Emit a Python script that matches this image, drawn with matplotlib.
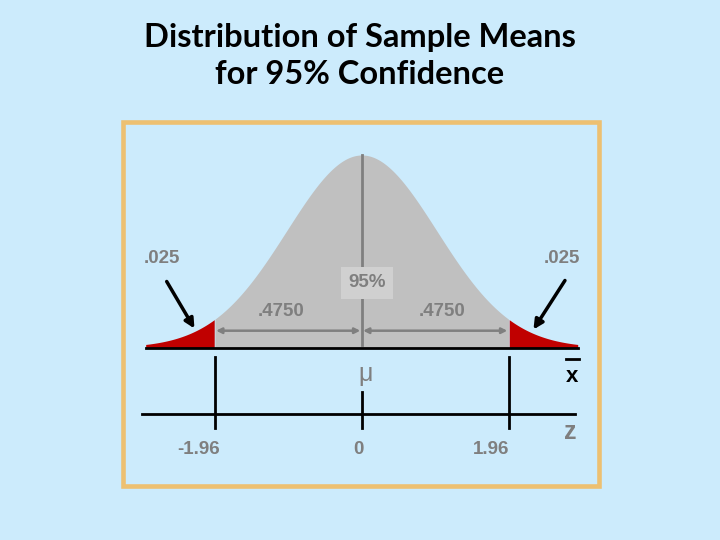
import numpy as np
import matplotlib.pyplot as plt
from matplotlib.patches import Rectangle

# values shown on the chart
z_crit = 1.96
tail_area = ".025"
half_area = ".4750"
center_label = "95%"
z_ticks = [-1.96, 0, 1.96]
z_tick_labels = ["-1.96", "0", "1.96"]
z_range = 2.88

bg = "#CCEBFC"
gray_fill = "#C0C0C0"
gray_text = "#7F7F7F"
red = "#C00000"
lab_font = dict(fontsize=13.5, fontweight="bold", color=gray_text, family="Liberation Sans")

fig = plt.figure(figsize=(7.2, 5.4), dpi=100, facecolor=bg)

# frame around the diagram
fig.patches.append(Rectangle((123 / 720, 1 - 485.5 / 540), 475.5 / 720, 363 / 540,
                             transform=fig.transFigure, fill=False,
                             edgecolor="#EDC071", linewidth=3.3))

fig.text(0.5, 1 - 38 / 540, "Distribution of Sample Means", ha="center", va="center",
         fontsize=23.5, fontweight="bold", family="Lato")
fig.text(0.5, 1 - 75 / 540, "for 95% Confidence", ha="center", va="center",
         fontsize=23.5, fontweight="bold", family="Lato")

ax = fig.add_axes([0, 0, 1, 1])
ax.set_facecolor("none")
ax.set_xlim(-361.7 / 75, (720 - 361.7) / 75)
ax.set_ylim(-(540 - 347.5) / 482.6, 347.5 / 482.6)
ax.axis("off")

z = np.linspace(-z_range, z_range, 600)
pdf = np.exp(-z ** 2 / 2) / np.sqrt(2 * np.pi)
ax.fill_between(z, 0, pdf, where=np.abs(z) <= z_crit, color=gray_fill, lw=0)
ax.fill_between(z, 0, pdf, where=z <= -z_crit, color=red, lw=0)
ax.fill_between(z, 0, pdf, where=z >= z_crit, color=red, lw=0)
ax.plot([-z_range, z_range], [0, 0], color="black", lw=2)

peak = 1 / np.sqrt(2 * np.pi)
ax.plot([0, 0], [0.005, peak], color=gray_text, lw=2)

# arrows for the two halves
yarr = 16.8 / 482.6
for side in (-1, 1):
    ax.annotate("", xy=(side * z_crit, yarr), xytext=(0, yarr),
                arrowprops=dict(arrowstyle="<|-|>", color=gray_text, lw=1.8,
                                mutation_scale=8, shrinkA=1, shrinkB=1))
    ax.text(side * 1.07, 36 / 482.6, half_area, ha="center", va="center", **lab_font)

ax.text(0.07, 65 / 482.6, center_label, ha="center", va="center",
        bbox=dict(boxstyle="square,pad=0.4", fc="#D0D0D0", ec="none"), **lab_font)

# tail labels and arrows
ax.text(-2.67, 89 / 482.6, tail_area, ha="center", va="center", **lab_font)
ax.text(2.67, 89 / 482.6, tail_area, ha="center", va="center", **lab_font)
ax.annotate("", xy=(-2.23, 19 / 482.6), xytext=(-2.60, 66 / 482.6),
            arrowprops=dict(arrowstyle="-|>", color="black", lw=2.5, mutation_scale=14,
                            shrinkA=0, shrinkB=0))
ax.annotate("", xy=(2.29, 18 / 482.6), xytext=(2.71, 67 / 482.6),
            arrowprops=dict(arrowstyle="-|>", color="black", lw=2.5, mutation_scale=14,
                            shrinkA=0, shrinkB=0))

# lower z axis
yz = -(414 - 347.5) / 482.6
ax.plot([-2.93, 2.84], [yz, yz], color="black", lw=2)
for zt in (-z_crit, z_crit):
    ax.plot([zt, zt], [-(356.7 - 347.5) / 482.6, -(428.3 - 347.5) / 482.6], color="black", lw=2)
ax.plot([0, 0], [-(391.7 - 347.5) / 482.6, -(428.3 - 347.5) / 482.6], color="black", lw=2)
label_shift = [-0.22, -0.05, -0.23]
for zt, lab, dz in zip(z_ticks, z_tick_labels, label_shift):
    ax.text(zt + dz, -(450 - 347.5) / 482.6, lab, ha="center", va="center", **lab_font)

ax.text(0.05, -(374 - 347.5) / 482.6, "\u03bc", ha="center", va="center",
        fontsize=18, color=gray_text, family="Liberation Sans")
ax.text(2.81, -(376 - 347.5) / 482.6, "x", ha="center", va="center", fontsize=16,
        fontweight="bold", color="black", family="Liberation Sans")
ax.plot([2.72, 2.90], [-(359 - 347.5) / 482.6] * 2, color="black", lw=2)
ax.text(2.78, -(432 - 347.5) / 482.6, "z", ha="center", va="center", fontsize=18,
        fontweight="bold", color=gray_text, family="Liberation Sans")

fig.savefig("out.png", dpi=100, facecolor=bg)
